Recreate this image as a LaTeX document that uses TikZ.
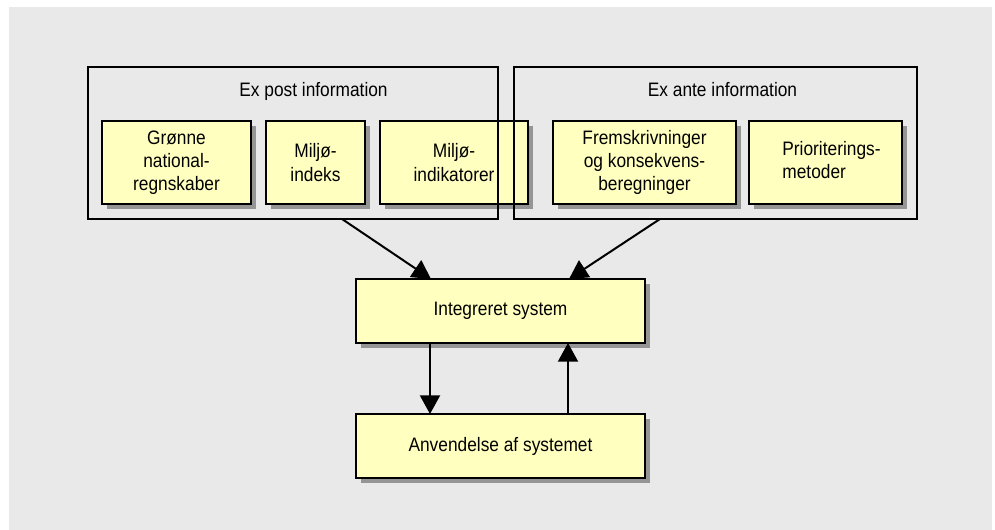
\documentclass[tikz,border=0pt]{standalone}
\usepackage{fontspec}
\setmainfont{Liberation Sans}[FakeStretch=0.89]
\usetikzlibrary{shadows,arrows.meta,calc}
\definecolor{bggray}{HTML}{E9E9E9}
\definecolor{boxyellow}{HTML}{FFFFC0}
\definecolor{shadowgray}{HTML}{959595}
\begin{document}
\begin{tikzpicture}[x=0.75pt,y=-0.75pt,
  txt/.style={font=\fontsize{14.6}{17.4}\selectfont},
  ybox/.style={txt, draw=black, line width=2.2pt, fill=boxyellow, minimum height=62.25pt,
    inner sep=0pt, outer sep=0pt, align=center,
    drop shadow={shadow xshift=3.5pt, shadow yshift=-3.5pt, fill=shadowgray, opacity=1}},
  frame/.style={draw=black, line width=1.7pt, minimum height=114pt, inner sep=0pt, outer sep=0pt},
  title/.style={txt, anchor=base, inner sep=0pt},
  arr/.style={line width=1.5pt, -{Triangle[length=14pt,width=15pt]}}]
\useasboundingbox (0,0) rectangle (995,530);
\fill[bggray] (9,7) rectangle (992,530);
% inner boxes
\node[ybox, minimum width=111.75pt] (gron) at (176.5,162.5) {Grønne\\national-\\regnskaber};
\node[ybox, minimum width=74.25pt] (mindeks) at (315.5,162.5) {Miljø-\\indeks};
\node[ybox, minimum width=111pt] (mindik) at (454,162.5) {Miljø-\\indikatorer};
\node[ybox, minimum width=137.25pt] (frem) at (644.5,162.5) {Fremskrivninger\\og konsekvens-\\beregninger};
\node[ybox, minimum width=114.75pt] (prio) at (825.5,162.5) {\hspace*{9pt}\begin{tabular}{@{}l@{}}Prioriterings-\\metoder\end{tabular}};
% outer frames
\node[frame, minimum width=307.5pt] (expost) at (293,143) {};
\node[frame, minimum width=302.25pt] (exante) at (715.5,143) {};
\node[title] (tpost) at (313.5,97) {Ex post information};
\node[title] (tante) at (722.5,97) {Ex ante information};
% lower boxes
\node[ybox, minimum width=216.75pt, minimum height=48pt] (integ) at (500.5,311) {Integreret system};
\node[ybox, minimum width=216.75pt, minimum height=48pt] (anv) at (500.5,446) {Anvendelse af systemet};
% connectors
\coordinate (s1) at ($(expost.south west)+(254,0)$);
\coordinate (e1) at ($(integ.north west)+(75,0)$);
\coordinate (s2) at ($(exante.south west)+(146,0)$);
\coordinate (e2) at ($(integ.north west)+(213,0)$);
\coordinate (d1) at ($(integ.south west)+(74,0)$);
\coordinate (d2) at ($(anv.north west)+(74,0)$);
\coordinate (u1) at ($(anv.north west)+(212,0)$);
\coordinate (u2) at ($(integ.south west)+(212,0)$);
\draw[arr] (s1) -- (e1);
\draw[arr] (s2) -- (e2);
\draw[arr] (d1) -- (d2);
\draw[arr] (u1) -- (u2);
\end{tikzpicture}
\end{document}
